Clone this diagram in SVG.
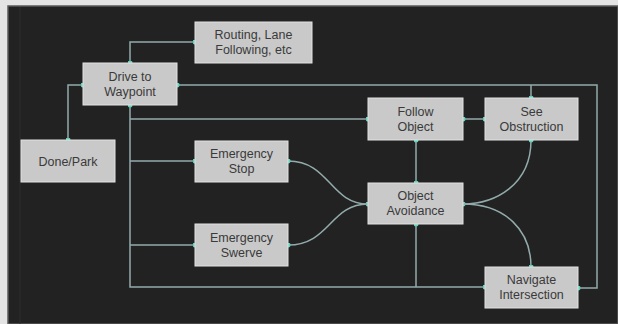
<svg xmlns="http://www.w3.org/2000/svg" width="618" height="324" viewBox="0 0 618 324">
<defs>
<style>
.node rect{fill:#c9c9c9;stroke:#e2e2e2;stroke-width:1}
.node text{font-family:"Liberation Sans",Arial,sans-serif;font-size:12.5px;fill:#3a3a3a;text-anchor:middle}
.edge{fill:none;stroke:#93abab;stroke-width:1.5}
</style>
<marker id="dot" viewBox="0 0 6 6" refX="3" refY="3" markerWidth="5" markerHeight="5" markerUnits="userSpaceOnUse">
<circle cx="3" cy="3" r="3" fill="#5fd3bd"/>
</marker>
</defs>
<rect x="0" y="0" width="618" height="324" fill="#e4e4e4"/>
<rect x="8" y="6" width="610" height="318" fill="#222222" stroke="#5a5a5a" stroke-width="1.5"/>
<line x1="20" y1="7" x2="20" y2="324" stroke="#2c2c2c" stroke-width="1"/>
<g id="connectors">
<path class="edge" d="M130,63 V42 H195" marker-start="url(#dot)" marker-end="url(#dot)"/>
<path class="edge" d="M83,85 H68 V140" marker-start="url(#dot)" marker-end="url(#dot)"/>
<path class="edge" d="M177,85 H597 V288 H578" marker-start="url(#dot)" marker-end="url(#dot)"/>
<path class="edge" d="M531,85 V98" marker-end="url(#dot)"/>
<path class="edge" d="M130,105 V287 H485" marker-start="url(#dot)" marker-end="url(#dot)"/>
<path class="edge" d="M130,119 H368" marker-end="url(#dot)"/>
<path class="edge" d="M130,161 H195" marker-end="url(#dot)"/>
<path class="edge" d="M130,245 H195" marker-end="url(#dot)"/>
<path class="edge" d="M416,224 V287" marker-start="url(#dot)"/>
<path class="edge" d="M463,119 H485" marker-start="url(#dot)" marker-end="url(#dot)"/>
<path class="edge" d="M416,140 V183" marker-start="url(#dot)" marker-end="url(#dot)"/>
<path class="edge" d="M531,140 C531,185 495,204 463,204" marker-start="url(#dot)" marker-end="url(#dot)"/>
<path class="edge" d="M463,204 C505,204 531,230 531,267" marker-end="url(#dot)"/>
<path class="edge" d="M288,161 C330,161 330,204 368,204" marker-start="url(#dot)" marker-end="url(#dot)"/>
<path class="edge" d="M288,245 C330,245 330,204 368,204" marker-start="url(#dot)"/>
</g>
<g id="routing" class="node"><rect x="195" y="22" width="117" height="41"/><text x="253.5" y="39">Routing, Lane</text><text x="253.5" y="54">Following, etc</text></g>
<g id="drive" class="node"><rect x="83" y="63" width="94" height="42"/><text x="130" y="81">Drive to</text><text x="130" y="96">Waypoint</text></g>
<g id="done" class="node"><rect x="21" y="140" width="94" height="42"/><text x="68" y="165.5">Done/Park</text></g>
<g id="estop" class="node"><rect x="195" y="141" width="93" height="41"/><text x="241.5" y="158">Emergency</text><text x="241.5" y="173">Stop</text></g>
<g id="eswerve" class="node"><rect x="195" y="224" width="93" height="42"/><text x="241.5" y="242">Emergency</text><text x="241.5" y="257">Swerve</text></g>
<g id="follow" class="node"><rect x="368" y="98" width="95" height="42"/><text x="415.5" y="116">Follow</text><text x="415.5" y="131">Object</text></g>
<g id="see" class="node"><rect x="485" y="98" width="93" height="42"/><text x="531.5" y="116">See</text><text x="531.5" y="131">Obstruction</text></g>
<g id="avoid" class="node"><rect x="368" y="183" width="95" height="41"/><text x="415.5" y="200">Object</text><text x="415.5" y="215">Avoidance</text></g>
<g id="navigate" class="node"><rect x="485" y="267" width="93" height="41"/><text x="531.5" y="284">Navigate</text><text x="531.5" y="299">Intersection</text></g>
</svg>
